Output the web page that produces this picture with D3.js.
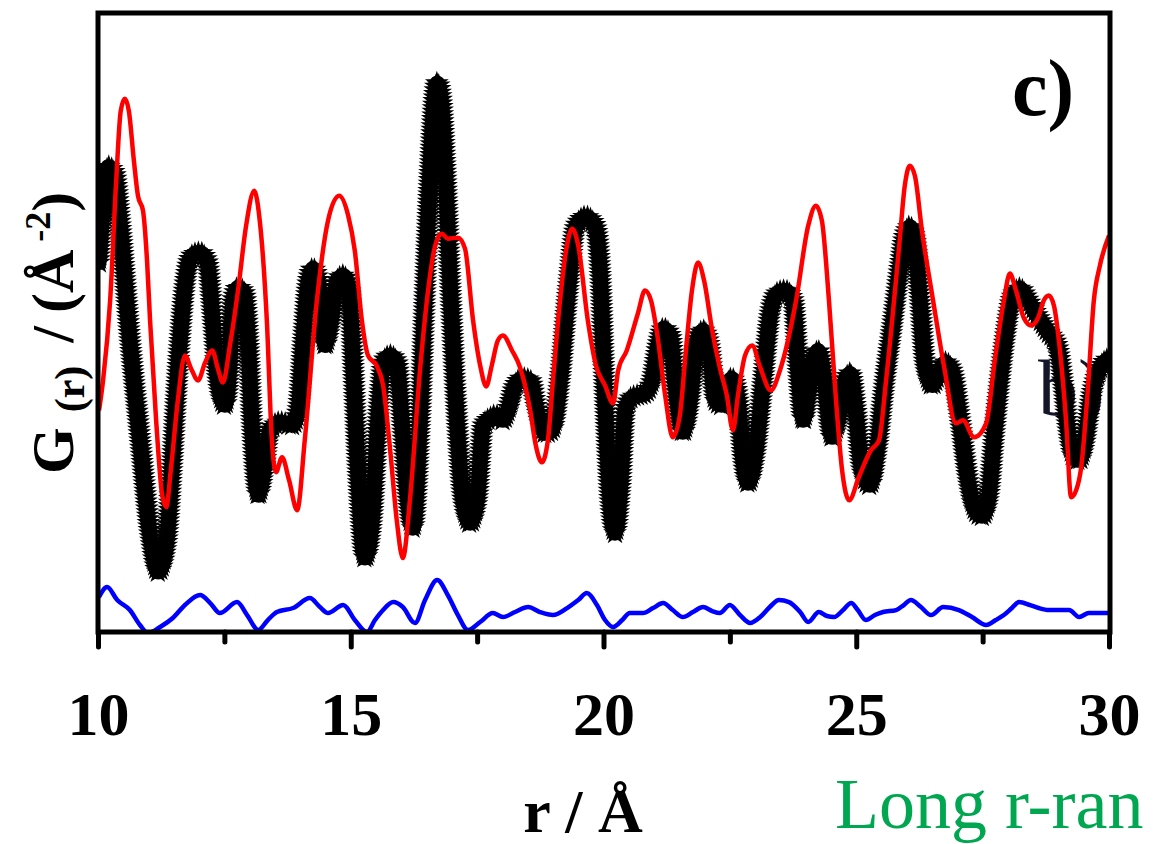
<!DOCTYPE html>
<html>
<head>
<meta charset="utf-8">
<script src="https://cdn.jsdelivr.net/npm/d3@7"></script>
<style>
  html, body { margin: 0; padding: 0; background: #ffffff; overflow: hidden; }
  svg { display: block; }
  text { font-family: "Liberation Serif", "Times New Roman", "DejaVu Serif", serif; }
</style>
</head>
<body>
<svg id="chart" width="1156" height="844"></svg>
<script>
// ---------- data (r in Å, G(r) in arbitrary units) ----------
const xTicks = [10, 15, 20, 25, 30];
const xMinorTicks = [12.5, 17.5, 22.5, 27.5];

// experimental G(r) (black stars)
const blackR = [10.02,10.10,10.20,10.32,10.44,10.63,10.83,11.03,11.19,11.35,11.46,11.58,11.72,11.86,12.02,12.16,12.27,12.37,12.51,12.61,12.67,12.77,12.89,12.97,13.05,13.17,13.28,13.40,13.60,13.84,13.96,14.06,14.15,14.25,14.37,14.49,14.61,14.73,14.85,14.97,15.06,15.14,15.28,15.42,15.54,15.66,15.78,15.91,16.01,16.13,16.23,16.37,16.47,16.57,16.65,16.71,16.79,16.88,16.98,17.10,17.22,17.36,17.50,17.62,17.75,17.87,18.01,18.11,18.25,18.39,18.55,18.66,18.84,18.98,19.14,19.30,19.46,19.65,19.83,19.93,20.03,20.13,20.23,20.33,20.43,20.56,20.82,20.96,21.08,21.18,21.32,21.41,21.57,21.71,21.85,21.97,22.09,22.21,22.34,22.44,22.54,22.66,22.76,22.86,23.00,23.16,23.31,23.45,23.59,23.75,23.85,23.95,24.09,24.24,24.36,24.52,24.68,24.78,24.88,24.99,25.11,25.27,25.41,25.57,25.73,25.87,25.96,26.06,26.16,26.26,26.36,26.50,26.62,26.76,26.89,27.05,27.21,27.37,27.49,27.61,27.74,27.94,28.10,28.24,28.40,28.58,28.77,28.97,29.09,29.19,29.31,29.41,29.53,29.64,29.82,30.00];
const blackG = [37.0,42.7,46.6,46.0,40.7,29.2,19.2,9.7,6.0,8.7,16.2,26.2,34.7,37.7,38.0,37.0,31.2,25.2,22.7,27.2,33.2,34.5,34.0,29.2,20.2,13.7,16.2,20.2,21.0,20.7,22.2,29.2,34.7,36.4,34.7,28.7,31.2,35.2,35.7,34.2,25.2,16.2,7.4,11.2,21.2,27.2,27.7,27.0,21.2,13.2,10.4,21.2,34.2,46.2,53.2,55.0,53.2,45.2,33.2,21.2,13.2,10.9,13.2,20.7,21.4,21.7,21.2,22.2,24.7,25.4,25.2,22.7,19.9,20.2,25.2,34.2,40.7,41.6,40.7,36.2,23.2,13.2,9.9,14.2,22.2,23.5,23.9,25.2,28.7,30.4,29.7,25.2,20.0,23.2,29.2,30.2,28.7,23.2,22.7,24.7,25.4,23.2,17.2,14.9,17.7,25.2,32.2,34.0,34.2,33.2,26.2,21.2,25.2,28.2,25.7,19.5,22.2,25.2,25.9,22.2,16.2,14.7,18.2,25.2,31.2,36.7,39.7,40.6,39.2,33.2,26.7,24.7,25.7,27.0,26.2,21.2,15.2,12.0,11.6,13.2,20.2,29.2,33.7,34.4,33.2,31.7,30.2,28.7,24.7,20.2,17.4,17.2,19.2,23.2,26.4,27.4];

// model G(r) (red line)
const redR = [10.02,10.10,10.24,10.36,10.45,10.53,10.61,10.71,10.79,10.89,10.97,11.03,11.15,11.27,11.35,11.44,11.58,11.72,11.84,11.98,12.12,12.26,12.37,12.47,12.61,12.77,12.93,13.09,13.20,13.34,13.44,13.52,13.64,13.78,13.94,14.09,14.33,14.55,14.77,14.95,15.08,15.22,15.34,15.52,15.64,15.78,15.91,16.03,16.17,16.37,16.53,16.67,16.80,16.92,17.12,17.26,17.42,17.56,17.68,17.79,17.91,18.01,18.19,18.35,18.55,18.66,18.78,18.90,19.00,19.14,19.26,19.38,19.50,19.69,19.85,20.03,20.19,20.29,20.46,20.68,20.82,20.94,21.06,21.22,21.37,21.51,21.63,21.75,21.87,21.99,22.15,22.30,22.44,22.56,22.66,22.80,22.94,23.10,23.31,23.49,23.81,24.05,24.20,24.32,24.46,24.60,24.72,24.86,25.05,25.29,25.45,25.59,25.85,25.96,26.06,26.16,26.30,26.52,26.74,26.97,27.11,27.33,27.57,27.74,27.92,28.04,28.16,28.32,28.46,28.60,28.71,28.81,28.91,29.03,29.15,29.25,29.35,29.45,29.58,29.70,29.82,30.00];
const redG = [22.2,25.2,33.2,45.2,52.2,53.4,52.2,47.2,43.7,42.2,37.2,31.2,21.2,13.7,12.5,16.2,23.2,27.7,26.4,25.2,27.0,28.2,26.4,25.0,28.7,34.2,40.7,44.2,41.2,31.2,19.2,16.0,17.5,15.2,12.2,19.2,33.2,41.2,43.7,41.7,38.2,31.2,27.7,26.6,24.7,18.2,11.2,7.4,13.2,26.2,34.2,38.7,39.9,39.4,39.5,38.4,31.2,26.7,24.6,26.7,29.2,29.7,28.2,26.5,22.2,18.7,17.0,19.2,25.2,33.2,38.2,40.4,38.7,31.2,26.7,24.7,22.9,26.2,28.2,31.9,34.2,33.2,29.9,23.7,19.5,21.7,28.2,34.2,37.0,35.2,30.2,26.5,23.7,20.2,23.7,27.7,28.7,26.5,24.2,26.2,33.2,40.7,42.7,41.2,33.2,23.2,16.2,13.2,15.5,18.2,19.2,25.2,38.7,44.7,46.7,45.7,40.2,33.2,26.5,20.9,21.2,19.5,20.9,27.2,33.2,35.9,34.2,31.4,30.7,31.5,33.2,33.7,32.7,28.2,21.2,13.5,14.2,16.5,24.2,33.2,36.7,39.7];

// difference curve (blue line)
const blueR = [10.02,10.18,10.38,10.63,10.83,10.99,11.23,11.48,11.72,12.02,12.22,12.41,12.75,12.95,13.17,13.36,13.54,13.86,14.19,14.39,14.55,14.85,15.08,15.32,15.48,15.64,15.84,16.03,16.27,16.47,16.71,16.92,17.12,17.32,17.56,17.81,18.01,18.25,18.51,18.74,19.00,19.28,19.50,19.67,19.87,20.03,20.19,20.37,20.52,20.78,20.98,21.18,21.37,21.57,21.77,21.97,22.15,22.30,22.50,22.70,22.90,23.10,23.29,23.47,23.67,23.89,24.05,24.26,24.42,24.56,24.74,24.90,25.03,25.19,25.37,25.53,25.79,25.94,26.08,26.28,26.48,26.72,27.03,27.29,27.57,27.76,27.92,28.08,28.22,28.44,28.61,28.81,29.03,29.21,29.41,29.60,29.80,30.00];
const blueG = [3.5,4.5,3.2,2.2,0.7,-0.1,0.5,1.4,2.7,3.7,2.9,1.9,3.0,1.7,0.2,1.2,2.0,2.4,3.4,2.5,1.9,2.7,1.2,0.0,1.2,2.2,3.0,2.5,0.9,3.2,5.2,3.7,1.7,0.2,1.0,1.9,1.5,2.0,2.5,2.0,1.7,2.4,3.2,3.9,2.7,1.2,0.5,1.2,1.9,1.9,2.4,2.9,2.2,1.5,2.0,2.5,2.1,1.9,2.7,1.7,0.9,1.5,2.5,3.2,3.0,2.0,1.0,2.0,1.6,1.5,2.2,2.9,2.2,1.2,1.7,2.0,2.2,2.7,3.2,2.5,1.7,2.5,2.2,1.5,0.7,1.2,1.7,2.4,3.0,2.7,2.4,2.2,2.2,2.2,1.5,1.9,1.9,1.9];

// ---------- layout ----------
const svg = d3.select("#chart");
const plotLeft = 98, plotRight = 1110, plotTop = 13, plotBottom = 632;

const x = d3.scaleLinear().domain([10, 30]).range([98, 1109]);
const y = d3.scaleLinear().domain([0, 62]).range([plotBottom, plotTop]);

const zip = (rs, gs) => rs.map((r, i) => ({ r, g: gs[i] }));
const line = d3.line().x(d => x(d.r)).y(d => y(d.g)).curve(d3.curveMonotoneX);

svg.append("defs").append("clipPath").attr("id", "plotclip")
  .append("rect").attr("x", plotLeft).attr("y", plotTop)
  .attr("width", plotRight - plotLeft).attr("height", plotBottom - plotTop);

// panel label b) (drawn beneath the curves)
svg.append("text").attr("x", 1038).attr("y", 415)
  .attr("font-size", 80).attr("fill", "#15152a").text("b)");

const plot = svg.append("g").attr("clip-path", "url(#plotclip)");

// black star series: core plus star markers along the curve
const blackPath = plot.append("path")
  .datum(zip(blackR, blackG))
  .attr("d", line)
  .attr("fill", "none")
  .attr("stroke", "#000")
  .attr("stroke-width", 15)
  .attr("stroke-linejoin", "round")
  .attr("stroke-linecap", "round");

const starR = 12.5;
const starPath = d3.symbol().type(d3.symbolStar).size(starR * starR / 0.8908130915292852)();
const node = blackPath.node();
const total = node.getTotalLength();
const starPts = [];
for (let l = 0; l <= total; l += 3.6) starPts.push(node.getPointAtLength(l));
plot.append("g").selectAll("path").data(starPts).join("path")
  .attr("d", starPath)
  .attr("transform", p => `translate(${p.x},${p.y})`)
  .attr("fill", "#000");

// red model curve
plot.append("path")
  .datum(zip(redR, redG))
  .attr("d", line)
  .attr("fill", "none")
  .attr("stroke", "#ff0000")
  .attr("stroke-width", 4.5)
  .attr("stroke-linejoin", "round");

// blue difference curve
plot.append("path")
  .datum(zip(blueR, blueG))
  .attr("d", line)
  .attr("fill", "none")
  .attr("stroke", "#0000ff")
  .attr("stroke-width", 4.5)
  .attr("stroke-linejoin", "round");

// frame
svg.append("rect")
  .attr("x", plotLeft).attr("y", plotTop)
  .attr("width", plotRight - plotLeft).attr("height", plotBottom - plotTop)
  .attr("fill", "none").attr("stroke", "#000").attr("stroke-width", 5);

// x axis (major + minor ticks)
const axisMajor = svg.append("g").attr("transform", `translate(0,${plotBottom})`)
  .call(d3.axisBottom(x).tickValues(xTicks).tickSize(15).tickFormat(d3.format("d")));
axisMajor.select(".domain").remove();
axisMajor.selectAll(".tick line").attr("stroke", "#000").attr("stroke-width", 5).attr("stroke-linecap", "round");
axisMajor.selectAll(".tick text")
  .attr("y", 103).attr("dy", null)
  .attr("font-family", "'Liberation Serif','Times New Roman',serif")
  .attr("font-weight", "bold").attr("font-size", 62).attr("fill", "#000");

const axisMinor = svg.append("g").attr("transform", `translate(0,${plotBottom})`)
  .call(d3.axisBottom(x).tickValues(xMinorTicks).tickSize(10).tickFormat(""));
axisMinor.select(".domain").remove();
axisMinor.selectAll(".tick line").attr("stroke", "#000").attr("stroke-width", 5).attr("stroke-linecap", "round");

// axis titles
svg.append("text").attr("x", 583).attr("y", 832).attr("text-anchor", "middle")
  .attr("font-weight", "bold").attr("font-size", 62).attr("fill", "#000").text("r / Å");

const yl = svg.append("text")
  .attr("transform", "translate(73,474) rotate(-90)")
  .attr("text-anchor", "start")
  .attr("font-weight", "bold").attr("font-size", 60).attr("fill", "#000");
yl.append("tspan").text("G");
yl.append("tspan").attr("font-size", 42).attr("dx", 15).attr("dy", 11).text("(r)");
yl.append("tspan").attr("dx", 23).attr("dy", -11).text("/");
yl.append("tspan").attr("dx", 13).text("(Å");
yl.append("tspan").attr("font-size", 36).attr("dx", 8).attr("dy", -23).text("-2");
yl.append("tspan").attr("dy", 23).text(")");

svg.append("text").attr("x", 1012).attr("y", 115)
  .attr("font-weight", "bold").attr("font-size", 80).attr("fill", "#000").text("c)");

svg.append("text").attr("x", 835).attr("y", 828)
  .attr("font-size", 72).attr("fill", "#00a650").text("Long r-ran");
</script>
</body>
</html>
